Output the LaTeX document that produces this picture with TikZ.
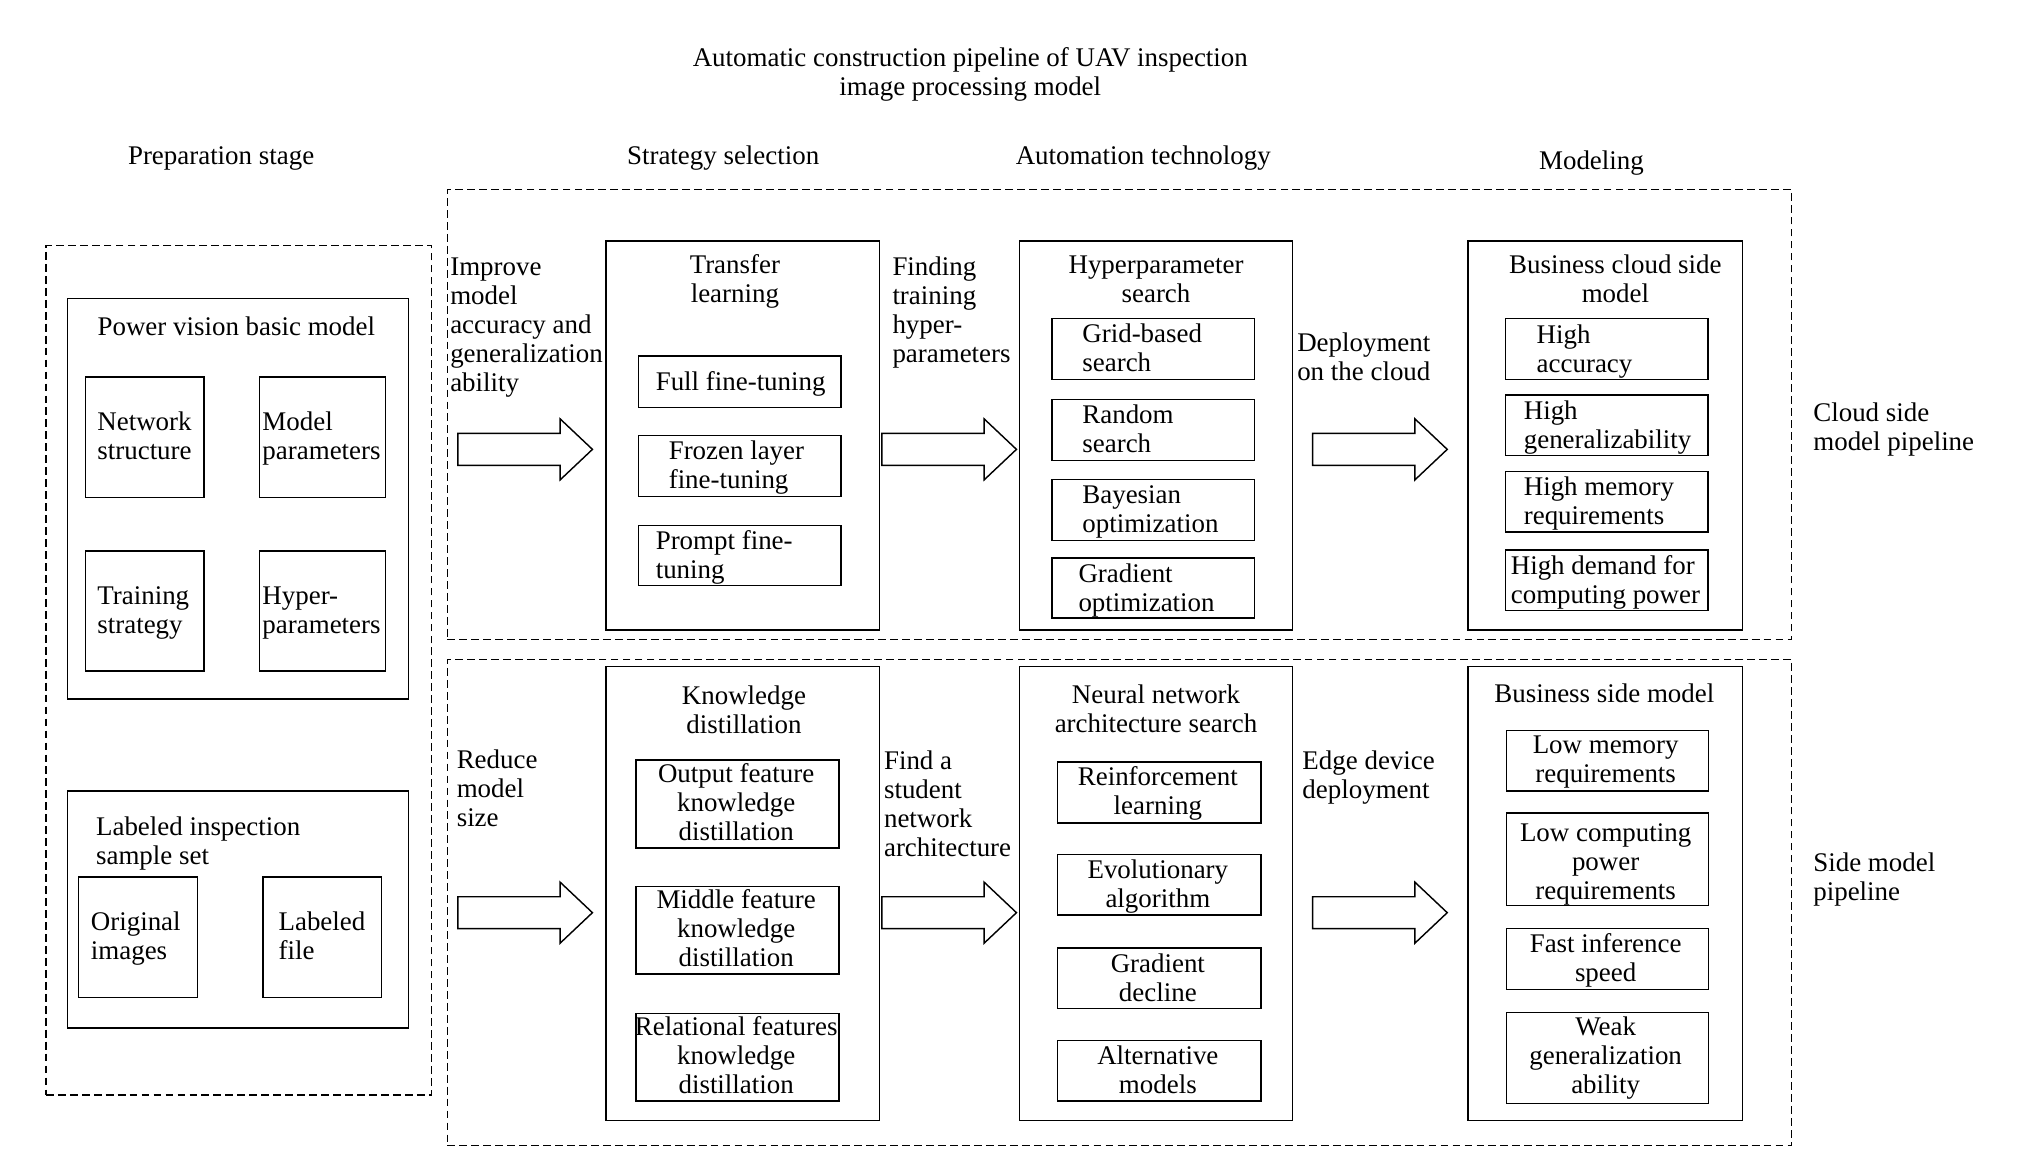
\documentclass[tikz,border=0pt]{standalone}
\usepackage{fontspec}
\setmainfont{Liberation Serif}
\begin{document}
\begin{tikzpicture}[x=1pt,y=-1pt,
  box/.style={draw, line width=1.1pt, anchor=north west, inner sep=0pt},
  dbox/.style={box, dash pattern=on 6pt off 3.2pt, line width=1pt},
  txt/.style={font=\fontsize{20.7}{22.3}\selectfont, inner sep=0pt,
    execute at begin node=\strut, execute at end node=\strut},
  tl/.style={txt, align=left, anchor=west},
  tc/.style={txt, align=center, anchor=center},
  blockarrow/.pic={\draw[line width=1.1pt] (0,-12.25) -- (78.6,-12.25) -- (78.6,-23.5) -- (103.5,0) -- (78.6,23.5) -- (78.6,12.25) -- (0,12.25) -- cycle;}
]
\newcommand\mybox[6][box]{\node[#1, minimum width={(#5)-(#3)}, minimum height={(#6)-(#4)}] (#2) at (#3,#4) {};}
\useasboundingbox (0,0) rectangle (1560,894.2);

% title and headers
\node[tc] (title) at (746,58.6) {Automatic construction pipeline of UAV inspection\\image processing model};
\node[tc] (hprep) at (170,122) {Preparation stage};
\node[tc] (hstrat) at (556,122) {Strategy selection};
\node[tc] (hauto) at (879,122) {Automation technology};
\node[tc] (hmodel) at (1223.6,125.6) {Modeling};

% preparation stage
\mybox[dbox]{prep}{34.8}{188.4}{331.5}{841.4}
\mybox{power}{51.3}{229}{313.6}{536.8}
\mybox{net}{65.2}{289.4}{156.3}{381.8}
\mybox{mpar}{199}{289.4}{295.7}{381.8}
\mybox{train}{65.2}{423}{156.3}{515.4}
\mybox{hyp}{199}{423}{295.7}{515.4}
\mybox{lab}{51.3}{607.7}{313.6}{789.9}
\mybox{orig}{59.7}{673.8}{151.3}{766.5}
\mybox{lfile}{201.6}{673.8}{292.7}{766.5}
\node[tc] at (181.7,253.7) {Power vision basic model};
\node[tl] at (74.7,338.4) {Network\\structure};
\node[tl] at (201.6,338.4) {Model\\parameters};
\node[tl] at (74.7,472.5) {Training\\strategy};
\node[tl] at (201.6,472.5) {Hyper-\\parameters};
\node[tl] at (73.7,649.3) {Labeled inspection\\sample set};
\node[tl] at (69.7,722.5) {Original\\images};
\node[tl] at (214,722.5) {Labeled\\file};

% pipelines
\mybox[dbox]{cloud}{343.5}{145.1}{1377}{491}
\mybox[dbox]{side}{343.5}{506.5}{1377}{880.2}

% cloud row
\mybox{transfer}{465.4}{184.9}{675.5}{483.9}
\mybox{full}{490.3}{273.2}{646}{312.6}
\mybox{frozen}{490.3}{334.4}{646}{381.2}
\mybox{prompt}{490.3}{403.3}{646}{449.8}
\mybox{hps}{783.2}{184.9}{993.2}{483.9}
\mybox{grid}{808.2}{244.3}{963.8}{291.4}
\mybox{rand}{808.2}{306.7}{963.8}{353.3}
\mybox{bayes}{808.2}{368}{963.8}{415}
\mybox{gopt}{808.2}{428.3}{963.8}{474.7}
\mybox{bizc}{1128}{184.9}{1339}{483.9}
\mybox{hacc}{1157}{244.3}{1312.7}{291.4}
\mybox{hgen}{1157}{303.2}{1312.7}{349.7}
\mybox{hmem}{1157}{362}{1312.7}{408.6}
\mybox{hdem}{1157}{422.4}{1312.7}{469}

\node[tl] at (346,253) {Improve\\model\\accuracy and\\generalization\\ability};
\node[tc] at (565,217.7) {Transfer\\learning};
\node[tl] at (504,295.5) {Full fine-tuning};
\node[tl] at (514,360.4) {Frozen layer\\fine-tuning};
\node[tl] at (504,429.6) {Prompt fine-\\tuning};
\node[tl] at (686,241.5) {Finding\\training\\hyper-\\parameters};
\node[tc] at (888.8,217.7) {Hyperparameter\\search};
\node[tl] at (832,270.9) {Grid-based\\search};
\node[tl] at (832,332.7) {Random\\search};
\node[tl] at (832,394.5) {Bayesian\\optimization};
\node[tl] at (829,454.8) {Gradient\\optimization};
\node[tl] at (997.2,277.5) {Deployment\\on the cloud};
\node[tc] at (1242,217.7) {Business cloud side\\model};
\node[tl] at (1181.3,271.3) {High\\accuracy};
\node[tl] at (1171.4,329.5) {High\\generalizability};
\node[tl] at (1171.4,388.4) {High memory\\requirements};
\node[tl] at (1161.4,449) {High demand for\\computing power};
\node[tl] at (1394,331) {Cloud side\\model pipeline};

\pic at (352,345.5) {blockarrow};
\pic at (678,345.5) {blockarrow};
\pic at (1009.2,345.5) {blockarrow};

% side row
\mybox{know}{465.4}{511.9}{675.5}{860.8}
\mybox{outf}{488.3}{583.7}{644.6}{651.5}
\mybox{midf}{488.3}{680.9}{644.6}{748.4}
\mybox{relf}{488.3}{778.7}{644.6}{846}
\mybox{nas}{783.2}{512}{993.2}{861}
\mybox{reinf}{812.6}{585.4}{968.8}{632.2}
\mybox{evol}{812.6}{656.3}{968.8}{703}
\mybox{gdec}{812.6}{728.4}{968.8}{775}
\mybox{alt}{812.6}{799.3}{968.8}{846}
\mybox{bizs}{1128}{512}{1339}{861}
\mybox{lmem}{1157.5}{561.1}{1313}{607.7}
\mybox{lcomp}{1157.5}{624.6}{1313}{695.8}
\mybox{fast}{1157.5}{713.2}{1313}{760.2}
\mybox{weak}{1157.5}{777.9}{1313}{847.9}

\node[tl] at (351,609.5) {Reduce\\model\\size};
\node[tc] at (572,548.9) {Knowledge\\distillation};
\node[tc] at (566,619.7) {Output feature\\knowledge\\distillation};
\node[tc] at (566,716.9) {Middle feature\\knowledge\\distillation};
\node[tc] at (566,814.7) {Relational features\\knowledge\\distillation};
\node[tl] at (679.5,620.9) {Find a\\student\\network\\architecture};
\node[tc] at (888.8,547.9) {Neural network\\architecture search};
\node[tc] at (890.2,611.2) {Reinforcement\\learning};
\node[tc] at (890.2,682.8) {Evolutionary\\algorithm};
\node[tc] at (890.2,755) {Gradient\\decline};
\node[tc] at (890.2,826) {Alternative\\models};
\node[tl] at (1001.2,598.9) {Edge device\\deployment};
\node[tc] at (1233.5,536) {Business side model};
\node[tc] at (1234.5,587.3) {Low memory\\requirements};
\node[tc] at (1234.5,665.9) {Low computing\\power\\requirements};
\node[tc] at (1234.5,739.4) {Fast inference\\speed};
\node[tc] at (1234.5,814.4) {Weak\\generalization\\ability};
\node[tl] at (1394,677) {Side model\\pipeline};

\pic at (352,701.7) {blockarrow};
\pic at (678,701.7) {blockarrow};
\pic at (1009.2,701.7) {blockarrow};
\end{tikzpicture}
\end{document}
